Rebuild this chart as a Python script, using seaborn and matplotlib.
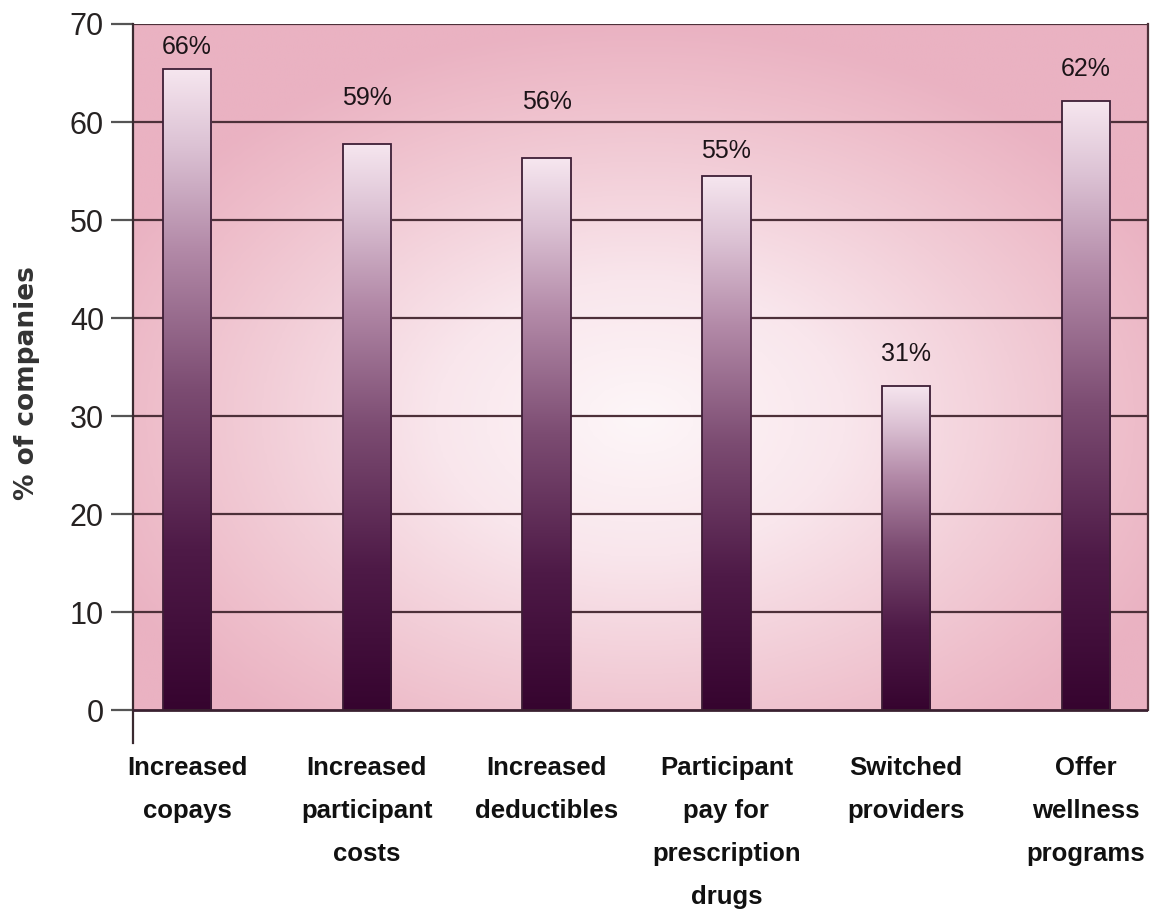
import numpy as np
import pandas as pd
import matplotlib
matplotlib.use("Agg")
import matplotlib.pyplot as plt
from matplotlib.colors import LinearSegmentedColormap
import seaborn as sns

# ---- data ----
categories = ["Increased\ncopays", "Increased\nparticipant\ncosts", "Increased\ndeductibles",
              "Participant\npay for\nprescription\ndrugs", "Switched\nproviders",
              "Offer\nwellness\nprograms"]
bar_values = [65.4, 57.8, 56.3, 54.5, 33.1, 62.1]
value_labels = ["66%", "59%", "56%", "55%", "31%", "62%"]
y_ticks = [0, 10, 20, 30, 40, 50, 60, 70]
y_label = "% of companies"

# ---- style ----
sns.set_style("white")
font = ["Liberation Sans", "DejaVu Sans"]
plt.rcParams["font.family"] = font
label_pad_pt = [7, 24, 32, 9, 14, 15]
grid_col = "#4d3039"

fig = plt.figure(figsize=(11.5, 9.23), dpi=100)
ax = fig.add_axes([0.1157, 0.195, 0.8826, 0.779])

df = pd.DataFrame({"category": categories, "value": bar_values})
sns.barplot(data=df, x="category", y="value", ax=ax, width=0.27,
            color="#7a4a6e", edgecolor="#3e1e36", linewidth=1.3, zorder=2)

xlim = (-0.30, 5.345)
ylim = (-3.35, 70)

# background radial gradient (only within the plotting frame 0..70)
bg_cmap = LinearSegmentedColormap.from_list(
    "bg", [(0.0, "#fdf6f8"), (0.35, "#f9e6ec"), (0.65, "#f2cdd7"), (0.85, "#eebdca"), (1.0, "#eab2c2")])
gx, gy = np.meshgrid(np.linspace(-1, 1, 400), np.linspace(-1, 1, 300))
r = np.sqrt(((gx - 0.0) / 1.15) ** 2 + ((gy + 0.15) / 1.15) ** 2)
ax.imshow(np.clip(r, 0, 1), cmap=bg_cmap, extent=[xlim[0], xlim[1], 0, 70],
          aspect="auto", origin="lower", zorder=0, interpolation="bilinear")

# bar gradients
bar_cmap = LinearSegmentedColormap.from_list(
    "bar", [(0.0, "#36042f"), (0.25, "#4e1a47"), (0.5, "#7c4c72"),
            (0.72, "#b38aa8"), (0.88, "#dcc2d4"), (1.0, "#f6e6ef")])
grad = np.linspace(0, 1, 256).reshape(-1, 1)
for p in ax.patches:
    x0, w, h = p.get_x(), p.get_width(), p.get_height()
    im = ax.imshow(grad, cmap=bar_cmap, extent=[x0, x0 + w, 0, h], aspect="auto",
                   origin="lower", zorder=1.8, interpolation="bilinear")
    im.set_clip_path(p)
    p.set_facecolor("none")

# value labels
for p, lab, pad in zip(ax.patches, value_labels, label_pad_pt):
    ax.annotate(lab, (p.get_x() + p.get_width() / 2, p.get_height()),
                xytext=(0, pad), textcoords="offset points", ha="center", va="bottom",
                fontsize=18, color="#1c1418")

ax.set_xlim(*xlim)
ax.set_ylim(*ylim)

# grid / frame
for yv in y_ticks[1:]:
    ax.axhline(yv, color=grid_col, lw=1.6, zorder=1)
ax.axhline(0, color="#3a2030", lw=2.0, zorder=3)
ax.spines["bottom"].set_visible(False)
ax.spines["top"].set_visible(False)
ax.spines["right"].set_bounds(0, 70)
ax.spines["right"].set_color(grid_col)
ax.spines["right"].set_linewidth(1.6)
ax.spines["left"].set_color("#3a2a30")
ax.spines["left"].set_linewidth(1.6)

ax.set_yticks(y_ticks)
ax.set_yticklabels([str(v) for v in y_ticks], fontsize=22, color="#262222")
ax.tick_params(axis="y", length=16, width=1.6, color="#555", pad=5, left=True)
ax.tick_params(axis="x", length=0, pad=9)
for t in ax.get_xticklabels():
    t.set_fontsize(18.5)
    t.set_fontweight("bold")
    t.set_color("#111")
    t.set_linespacing(2.0)

ax.set_xlabel("")
ax.set_ylabel(y_label, fontsize=19, fontweight="bold", family="DejaVu Sans", color="#333")
ax.yaxis.set_label_coords(-0.092, 0.5)

fig.savefig("out.png", dpi=100, facecolor="white")
